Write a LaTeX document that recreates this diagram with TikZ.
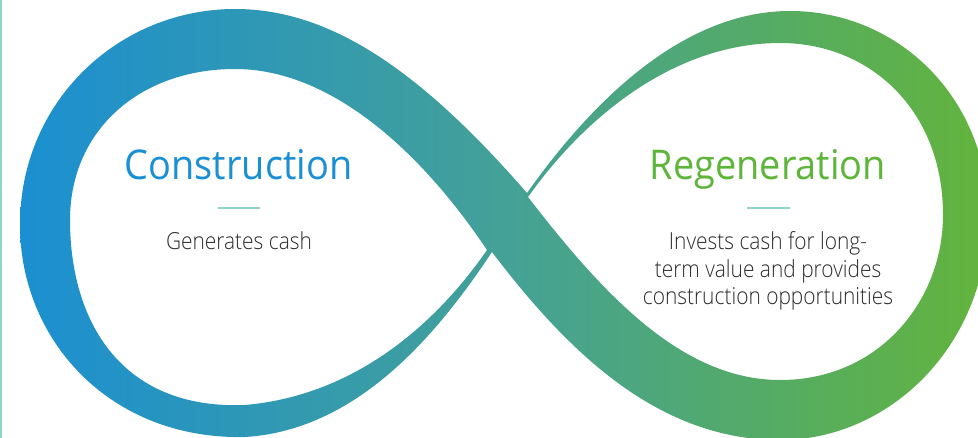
\documentclass[tikz,border=0pt]{standalone}
\usepackage{xcolor}
\usepackage{fontspec}
\setmainfont{Open Sans}[FakeStretch=0.925]
\newfontfamily\noteface{Open Sans Light}[FakeStretch=0.89]
\usepackage{tikz}

\definecolor{infblue}{HTML}{1B8FD1}
\definecolor{infteal}{HTML}{44A197}
\definecolor{infgreen}{HTML}{63B43C}
\definecolor{titleblue}{HTML}{1A8FD3}
\definecolor{titlegreen}{HTML}{5DB53A}
\definecolor{rulemint}{HTML}{92D4C6}
\definecolor{bodygray}{HTML}{2B2B2B}
\pgfdeclarehorizontalshading{loopfade}{100bp}{color(0bp)=(infblue); color(25bp)=(infblue); color(50bp)=(infteal); color(75bp)=(infgreen); color(100bp)=(infgreen)}

\begin{document}
\begin{tikzpicture}[x=1pt, y=-1pt,
	title/.style={anchor=base, inner sep=0pt, font=\fontsize{41}{41}\selectfont},
	blurb/.style={anchor=base, inner sep=0pt, align=center, text=bodygray, font=\noteface\fontsize{23.5}{27.5}\selectfont},
	mintrule/.style={draw=rulemint, line width=1.6pt}]
			\clip (0,0) rectangle (978,438);
			
			\shade[shading=loopfade, even odd rule]
				(527,193) .. controls (600,90) and (690,11) .. (790,11)
				.. controls (900,11) and (988,100) .. (988,215)
				.. controls (988,345) and (890,440) .. (780,440)
				.. controls (660,440) and (570,355) .. (492,252)
				.. controls (440,330) and (360,430) .. (245,437)
				.. controls (110,440) and (20,340) .. (20,225)
				.. controls (20,100) and (120,9) .. (235,9)
				.. controls (330,9) and (420,70) .. (527,193) -- cycle
				(487,250) .. controls (440,318) and (360,395) .. (245,405)
				.. controls (120,410) and (70,320) .. (70,220)
				.. controls (70,130) and (140,69) .. (235,69)
				.. controls (330,69) and (420,150) .. (487,250) -- cycle
				(528,197) .. controls (600,290) and (680,380) .. (780,380)
				.. controls (880,380) and (943,300) .. (943,215)
				.. controls (943,110) and (870,43) .. (780,43)
				.. controls (680,43) and (590,110) .. (528,197) -- cycle;
			
			\draw[mintrule] (1,0) -- (1,438);
			
			\node[title, text=titleblue] (cons) at (238.5,180) {Construction};
			\node[title, text=titlegreen] (regen) at (768,180) {Regeneration};
			
			\draw[mintrule] (218,208) -- (260,208);
			\draw[mintrule] (747,208) -- (790,208);
			
			\node[blurb] (consnote) at (239,250) {Generates cash};
			\node[blurb] (regennote) at (768,305) {Invests cash for long-\\term value and provides\\construction opportunities};
		\end{tikzpicture}
\end{document}
